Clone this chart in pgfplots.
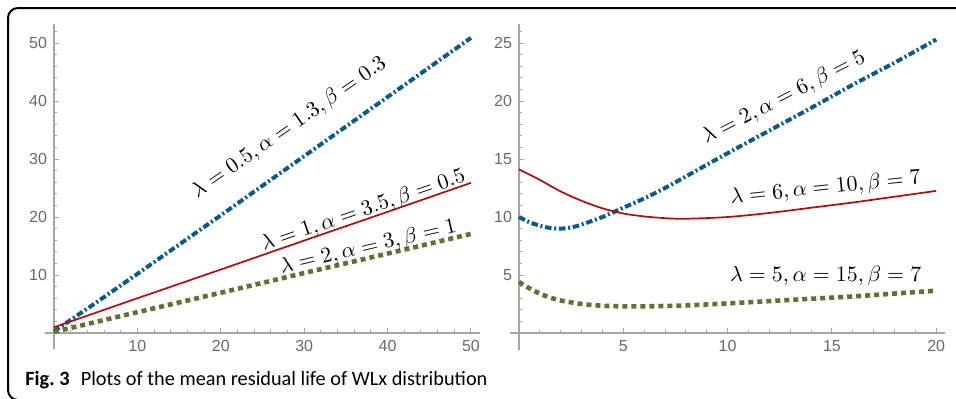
\documentclass[border=0pt]{standalone}
\usepackage[no-math]{fontspec}
\setmainfont{Carlito}
\newfontfamily\tickfont{Liberation Sans}
\usepackage{pgfplots}
\pgfplotsset{compat=1.18}
\definecolor{cblue}{RGB}{8,92,140}
\definecolor{cred}{RGB}{178,12,12}
\definecolor{colive}{RGB}{107,107,52}
\definecolor{axgray}{RGB}{165,165,165}
\definecolor{tickgray}{RGB}{105,105,105}
\tikzset{lbl/.style={font=\fontsize{10.5}{12}\selectfont, inner sep=1pt}}
\pgfplotsset{
  mma/.style={
    anchor=south west,
    axis lines=middle,
    axis line style={draw=axgray, line width=0.8pt, -},
    tick align=inside,
    major tick length=2.6pt,
    minor tick length=1.6pt,
    tick style={draw=axgray, line width=0.5pt},
    ticklabel style={font=\tickfont\fontsize{8}{9}\selectfont, text=tickgray},
    /pgf/number format/assume math mode=true,
    clip=false,
  },
  bluestyle/.style={color=cblue, line width=2pt, line cap=butt, dash pattern=on 3.3pt off 1.35pt on 1pt off 1.35pt},
  redstyle/.style={color=cred, line width=0.85pt},
  olivestyle/.style={color=colive, line width=2.3pt, line cap=butt, dash pattern=on 2.5pt off 2pt},
}
\begin{document}
\begin{tikzpicture}[x=1pt,y=1pt]
\clip (0,0) rectangle (478,199);
\draw[line width=1pt, rounded corners=5pt] (530,-1) -- (4,-1) -- (4,195) -- (530,195);
\node[anchor=base west, inner sep=0pt, font=\fontsize{10.15}{12}\selectfont] at (12.5,6.5) {\textbf{Fig.~3}\hspace{0.55em}Plots of the mean residual life of WLx distribution};

% left panel
\begin{axis}[mma,
  at={(22.4pt,24.65pt)},
  x=4.17pt, y=2.9pt,
  xmin=-1.1, xmax=51.1, ymin=-2.7, ymax=53.3,
  xtick={10,20,30,40,50}, ytick={10,20,30,40,50},
  minor xtick={2,4,...,50}, minor ytick={2,4,...,52},
]
\addplot[bluestyle] coordinates {(0,0.3) (5,5.2) (10,10.2) (20,20.3) (30,30.5) (40,40.7) (50,50.9)};
\addplot[redstyle] coordinates {(0,1.0) (10,6.0) (20,10.95) (30,15.95) (40,20.9) (50,25.9)};
\addplot[olivestyle] coordinates {(0,0.2) (10,3.6) (20,6.95) (30,10.35) (40,13.7) (50,17.1)};
\node[lbl, rotate=34.8] at (axis cs:28.2,35.4) {$\lambda = 0.5, \alpha = 1.3, \beta = 0.3$};
\node[lbl, rotate=18.9] at (axis cs:37.1,21.1) {$\lambda = 1, \alpha = 3.5, \beta = 0.5$};
\node[lbl, rotate=13.2] at (axis cs:37.7,14.8) {$\lambda = 2, \alpha = 3, \beta = 1$};
\end{axis}

% right panel
\begin{axis}[mma,
  at={(254.8pt,23.8pt)},
  x=10.43pt, y=5.8pt,
  xmin=-0.45, xmax=20.4, ymin=-1.5, ymax=26.6,
  xtick={5,10,15,20}, ytick={5,10,15,20,25},
  minor xtick={1,2,...,20}, minor ytick={1,2,...,26},
]
\addplot[bluestyle, smooth] coordinates {(0,10.0) (0.5,9.55) (1,9.25) (1.5,9.05) (2,9.0) (2.5,9.1) (3,9.35) (4,10.0) (5,10.8) (6,11.6) (7,12.5) (8,13.5) (10,15.5) (12,17.45) (14,19.4) (16,21.4) (18,23.3) (20,25.3)};
\addplot[redstyle, smooth] coordinates {(0,14.1) (1,13.2) (2,12.2) (3,11.4) (4,10.75) (5,10.3) (6,10.05) (7,9.9) (8,9.85) (10,10.0) (12,10.35) (14,10.8) (16,11.25) (18,11.75) (20,12.25)};
\addplot[olivestyle, smooth] coordinates {(0,4.4) (0.5,3.85) (1,3.4) (1.5,3.05) (2,2.8) (3,2.5) (4,2.35) (5,2.3) (6,2.3) (7,2.33) (8,2.38) (10,2.55) (12,2.75) (14,2.95) (16,3.15) (18,3.4) (20,3.65)};
\node[lbl, rotate=27.3] at (axis cs:12.7,20.3) {$\lambda = 2, \alpha = 6, \beta = 5$};
\node[lbl, rotate=6] at (axis cs:14.7,12.5) {$\lambda = 6, \alpha = 10, \beta = 7$};
\node[lbl] at (axis cs:14.7,4.9) {$\lambda = 5, \alpha = 15, \beta = 7$};
\end{axis}
\end{tikzpicture}
\end{document}
